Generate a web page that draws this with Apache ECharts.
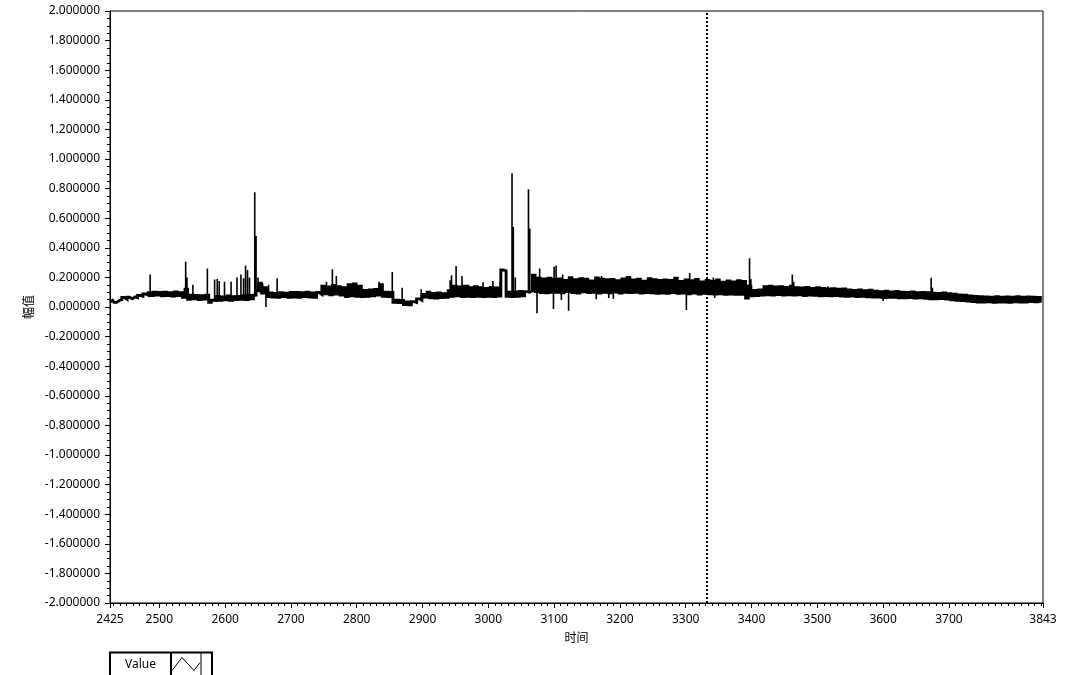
<!DOCTYPE html>
<html><head><meta charset="utf-8">
<script src="https://cdn.jsdelivr.net/npm/echarts@6/dist/echarts.min.js"></script>
<style>html,body{margin:0;padding:0;background:#fff}#c{width:1067px;height:675px}</style>
</head><body><div id="c"></div>
<script>
// sampled signal: time starts at T0, one reading every STEP units (values in thousandths)
const T0 = 2425, STEP = 4;
const signalMilli = [
 33,45,31,44,50,64,52,66,55,68,
 62,78,72,88,80,96,78,100,80,98,
 76,100,78,97,74,101,77,96,65,120,
 52,80,55,78,50,76,54,80,32,46,
 44,72,46,68,48,74,45,70,50,72,
 52,76,50,78,55,80,110,160,95,130,
 70,95,68,92,66,96,70,94,66,98,
 68,99,66,96,70,100,67,95,65,98,
 85,140,90,135,82,145,88,138,80,130,
 70,150,75,155,72,140,70,112,72,115,
 75,118,80,150,72,100,70,98,32,46,
 30,44,16,34,15,36,30,55,45,85,
 68,100,62,92,60,95,64,90,65,110,
 72,140,75,135,70,140,72,130,70,138,
 72,130,70,125,72,132,70,128,74,250,
 245,72,100,70,102,72,105,75,104,100,
 110,215,105,195,98,190,96,195,100,188,
 100,190,96,180,104,198,98,185,95,192,
 102,188,97,176,100,196,94,187,99,184,
 96,186,101,178,95,189,100,199,97,183,
 99,187,94,175,98,192,96,184,92,180,
 95,183,93,179,97,194,92,172,94,182,
 90,178,94,186,88,170,92,180,89,175,
 87,182,90,168,86,176,88,170,85,178,
 85,172,60,140,76,112,78,115,80,138,
 82,140,80,135,84,138,80,132,83,140,
 80,130,82,128,78,132,81,126,79,130,
 76,125,78,122,75,124,77,120,74,122,
 72,115,74,112,70,116,72,110,69,113,
 67,106,68,104,64,107,66,102,65,105,
 63,100,62,98,64,101,60,97,62,99,
 58,96,56,94,55,92,57,95,54,90,
 48,86,46,82,44,80,40,75,37,72,
 34,70,33,68,35,66,32,69,34,67,
 33,68,32,66,35,70,33,67,34,68,
 36,66,35,65,38
];
// isolated spikes (time, level they leave from, level they reach), thousandths
const spikeTime = [2486,2540,2542,2551,2573,2584,2588,2591,2599,2609,2618,2624,2628,2631,2634,2637,2645,2647,2650,2657,2662,2666,2679,2754,2763,2769,2834,2854,2869,2898,2942,2944,2951,2960,2970,2992,3007,3018,3036,3038,3041,3061,3063,3069,3074,3078,3099,3100,3103,3111,3113,3122,3164,3172,3183,3190,3301,3306,3342,3344,3393,3397,3399,3462,3464,3516,3600,3673,3675];
const spikeBase = [90,80,70,60,60,45,45,50,55,55,55,55,55,60,60,60,70,90,110,100,80,80,80,100,100,100,100,80,30,60,80,80,90,90,90,90,90,90,90,90,90,100,110,110,110,120,110,120,120,110,120,110,110,120,110,110,110,120,120,100,80,90,90,90,90,100,70,80,80];
const spikeTop  = [220,305,200,150,260,185,190,175,170,170,200,220,195,280,250,200,775,480,200,160,0,150,195,170,255,210,170,236,130,120,180,215,277,210,150,167,175,170,903,540,200,795,530,220,-43,260,-14,272,280,47,220,-25,52,210,60,55,-20,230,200,60,60,330,190,220,170,140,40,198,130];

const xLabelValues = [2425,2500,2600,2700,2800,2900,3000,3100,3200,3300,3400,3500,3600,3700,3843];
const X_MIN = 2425, X_MAX = 3843, Y_MIN = -2, Y_MAX = 2, Y_STEP = 0.2;
const cursorTime = 3332;
const seriesName = 'Value';
const xName = '时间', yName = '幅值';

const xMinorValues = [];
for (let t = 2430; t < X_MAX; t += 10) if (xLabelValues.indexOf(t) < 0) xMinorValues.push(t);

const bandPts = signalMilli.map((v, i) => [T0 + STEP * i, v / 1000]);
const spikePts = [];
spikeTime.forEach((t, k) => {
  spikePts.push([t, spikeBase[k] / 1000], [t, spikeTop[k] / 1000], [t, '-']);
});

const font = '"Noto Sans", "DejaVu Sans", sans-serif';
const cjk = '"Noto Sans CJK SC", sans-serif';
const chart = echarts.init(document.getElementById('c'), null, {renderer: 'canvas'});
chart.setOption({
  animation: false,
  backgroundColor: '#fff',
  grid: {left: 110, right: 24, top: 11, bottom: 72, show: true, borderColor: '#000', borderWidth: 1, backgroundColor: 'transparent'},
  xAxis: [{
    type: 'value', min: X_MIN, max: X_MAX,
    name: xName, nameLocation: 'middle', nameGap: 28,
    nameTextStyle: {fontFamily: cjk, fontSize: 12, color: '#000'},
    axisLine: {show: true, onZero: false, lineStyle: {color: '#000', width: 1}},
    axisTick: {show: true, customValues: xLabelValues, length: 5, lineStyle: {color: '#000'}},
    axisLabel: {customValues: xLabelValues, formatter: v => String(v), fontFamily: font, fontSize: 12, color: '#000', margin: 11},
    splitLine: {show: false}
  }, {
    type: 'value', min: X_MIN, max: X_MAX, position: 'bottom',
    axisLine: {show: false, onZero: false},
    axisTick: {show: true, customValues: xMinorValues, length: 3, lineStyle: {color: '#000'}},
    axisLabel: {show: false},
    splitLine: {show: false}
  }],
  yAxis: {
    type: 'value', min: Y_MIN, max: Y_MAX, interval: Y_STEP,
    name: yName, nameLocation: 'middle', nameGap: 67, nameRotate: 90,
    nameTextStyle: {fontFamily: cjk, fontSize: 12, color: '#000'},
    axisLine: {show: true, onZero: false, lineStyle: {color: '#000', width: 1}},
    axisTick: {show: true, length: 5, lineStyle: {color: '#000'}},
    minorTick: {show: true, splitNumber: 4, length: 3, lineStyle: {color: '#000'}},
    axisLabel: {formatter: v => Number(v).toFixed(6), fontFamily: font, fontSize: 12, color: '#000', margin: 10},
    splitLine: {show: false}
  },
  series: [{
    name: seriesName, type: 'line', data: bandPts, xAxisIndex: 0, step: 'middle',
    showSymbol: false, symbol: 'none', sampling: false,
    lineStyle: {color: '#000', width: 2.9, join: 'miter'},
    markLine: {
      silent: true, symbol: 'none', animation: false,
      label: {show: false},
      lineStyle: {color: '#000', type: [2, 2], width: 2},
      data: [{xAxis: cursorTime}]
    }
  }, {
    name: seriesName, type: 'line', data: spikePts, xAxisIndex: 0,
    showSymbol: false, symbol: 'none', sampling: false, connectNulls: false,
    lineStyle: {color: '#000', width: 1.6}
  }],
  graphic: [{
    type: 'group', left: 109, top: 650,
    children: [
      {type: 'rect', shape: {x: 0, y: 0, width: 102, height: 24}, style: {fill: '#fff', stroke: '#000', lineWidth: 2}},
      {type: 'text', x: 15, y: 12, style: {text: seriesName, font: '12px ' + font, fill: '#000', verticalAlign: 'middle'}},
      {type: 'line', shape: {x1: 61, y1: 0, x2: 61, y2: 24}, style: {stroke: '#000', lineWidth: 2}},
      {type: 'line', shape: {x1: 91, y1: 0, x2: 91, y2: 24}, style: {stroke: '#000', lineWidth: 1}},
      {type: 'polyline', shape: {points: [[62, 18], [72, 5], [84, 18], [90, 10]]}, style: {stroke: '#000', lineWidth: 1, fill: null}}
    ]
  }]
});
</script></body></html>
